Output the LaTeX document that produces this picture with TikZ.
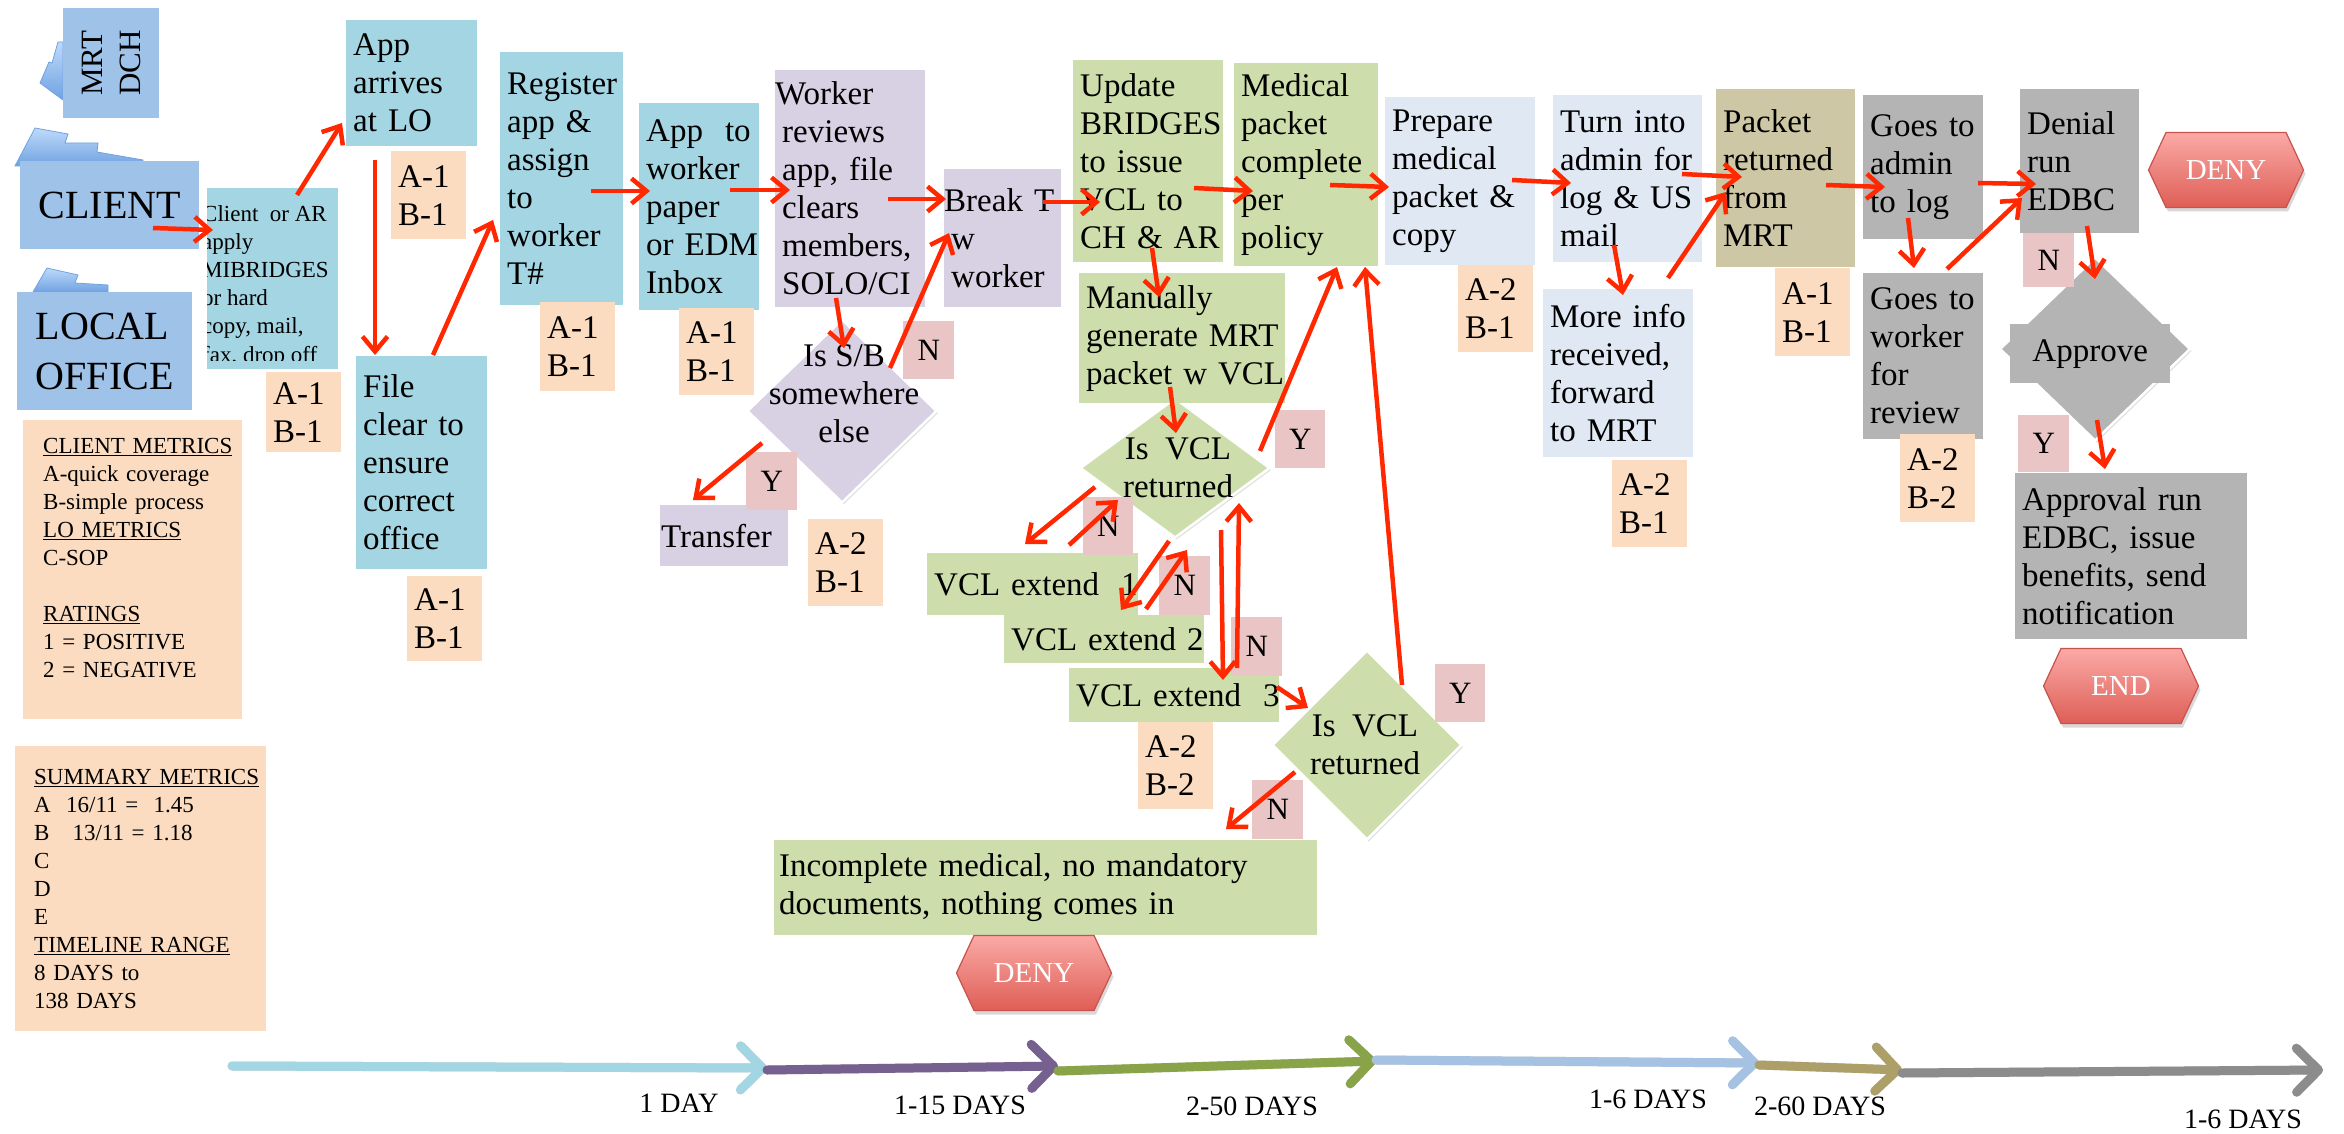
\documentclass[tikz,border=0pt]{standalone}
\usepackage{fontspec}
\setmainfont{Liberation Serif}
\usetikzlibrary{arrows.meta,shapes.geometric,shapes.symbols,shadows}

% no word splitting inside the boxes
\hyphenpenalty=10000
\exhyphenpenalty=10000

% fills
\definecolor{cBlue}{RGB}{158,194,232}
\definecolor{cCyan}{RGB}{164,213,227}
\definecolor{cPeach}{RGB}{251,220,192}
\definecolor{cLav}{RGB}{216,208,227}
\definecolor{cGreen}{RGB}{205,221,171}
\definecolor{cPale}{RGB}{223,232,243}
\definecolor{cKhaki}{RGB}{205,199,165}
\definecolor{cGray}{RGB}{180,180,180}
\definecolor{cPink}{RGB}{233,197,197}
\definecolor{cRed}{RGB}{255,40,0}
\definecolor{hexTop}{RGB}{251,170,166}
\definecolor{hexBot}{RGB}{222,94,86}
\definecolor{hexLine}{RGB}{200,82,76}
\definecolor{tabTop}{RGB}{190,218,250}
\definecolor{tabBot}{RGB}{112,162,226}
% timeline segments
\definecolor{tlA}{RGB}{163,214,227}
\definecolor{tlB}{RGB}{118,96,143}
\definecolor{tlC}{RGB}{137,163,73}
\definecolor{tlD}{RGB}{166,194,226}
\definecolor{tlE}{RGB}{172,160,104}
\definecolor{tlF}{RGB}{140,140,140}

% type sizes
\newcommand\bxf{\fontsize{33pt}{38pt}\selectfont}
\newcommand\smf{\fontsize{23pt}{28.2pt}\selectfont}
\newcommand\mtf{\fontsize{23pt}{28pt}\selectfont}
\newcommand\clf{\fontsize{40pt}{50pt}\selectfont}
\newcommand\ynf{\fontsize{31pt}{36pt}\selectfont}
\newcommand\hxf{\fontsize{29pt}{34pt}\selectfont}
\newcommand\tlf{\fontsize{28pt}{32pt}\selectfont}
\newcommand\mrtf{\fontsize{31pt}{38pt}\selectfont}

\begin{document}
\begin{tikzpicture}[x=1pt,y=-1pt,
  bx/.style n args={3}{anchor=north west, fill=#1, text width=#2, minimum height=#3,
    inner xsep=7pt, inner ysep=0pt, align=left, font=\bxf},
  rt/.style={anchor=north west, fill=cPeach, text width=61pt, minimum height=#1,
    inner xsep=7pt, inner ysep=0pt, align=left, font=\bxf},
  yn/.style n args={2}{anchor=north west, fill=cPink, minimum width=#1, minimum height=#2,
    inner sep=0pt, font=\ynf},
  dm/.style n args={3}{diamond, fill=#1, draw=white, line width=2.5pt, minimum width=#2,
    minimum height=#3, inner sep=0pt,
    drop shadow={opacity=0.25, shadow xshift=1.5pt, shadow yshift=-2pt}},
  dtxt/.style={align=center, font=\bxf, inner sep=0pt},
  hx/.style={signal, signal to=east and west, signal pointer angle=130,
    top color=hexTop, bottom color=hexBot, draw=hexLine, line width=1.2pt,
    minimum width=155pt, minimum height=75pt, inner sep=0pt, text=white, font=\hxf,
    drop shadow={opacity=0.3, shadow xshift=2pt, shadow yshift=-4pt}},
  arr/.style={draw=cRed, line width=4.5pt, -{Straight Barb[length=15pt,width=25pt]}},
  tl/.style={line width=9pt, line cap=round, -{Straight Barb[length=22pt,width=44pt,round]}},
  tab/.style={top color=tabTop, bottom color=tabBot, draw=tabBot, line width=0.8pt}]

\fill[white] (0,0) rectangle (2344,1134);
\useasboundingbox (0,0) rectangle (2344,1134);

% folder tabs behind the actor boxes
\path[tab] (63,42) -- (58,42) -- (52,63) -- (49,62) -- (40,83) -- (63,100) -- cycle;
\path[tab] (15,166) -- (35,128) -- (68,134) -- (65,143) -- (98,143) -- (97,152) -- (143,160) -- (143,166) -- cycle;
\path[tab] (33,292) -- (47,268) -- (78,275) -- (75,283) -- (108,285) -- (108,292) -- cycle;

% decision diamonds (drawn first, boxes overlap their tips)
\node[dm={cLav}{190pt}{184pt}] (sb) at (842,411) {};
\node[dtxt] (sbt) at (844,394) {Is S/B\\somewhere\\else};
\node[dm={cGreen}{190pt}{140pt}] (vcl1) at (1175,468) {};
\node[dtxt] (v1t) at (1178,468) {Is~~VCL\\returned};
\node[dm={cGreen}{190pt}{190pt}] (vcl2) at (1367,745) {};
\node[dtxt] (v2t) at (1365,745) {Is~~VCL\\returned};
\node[dm={cGray}{191pt}{184pt}] (apd) at (2095,349) {};
\node[anchor=north west, fill=cGray, minimum width=160pt, minimum height=59pt, inner sep=0pt, font=\bxf] (aprc) at (2010,324) {Approve};

% actors
\node[fill=cBlue, rotate=90, minimum width=110pt, minimum height=96pt, inner sep=0pt, font=\mrtf, align=left] (mrt) at (111,63) {MRT\\DCH};
\node[anchor=north west, fill=cBlue, minimum width=179pt, minimum height=88pt, inner sep=0pt, font=\clf] (client) at (20,161) {CLIENT};
\node[anchor=north west, fill=cBlue, minimum width=175pt, minimum height=118pt, inner sep=0pt, font=\clf, align=left] (lo) at (17,292) {LOCAL\\OFFICE};

% legend panels
\node[anchor=north west, fill=cPeach, text width=179pt, inner xsep=20pt, inner ysep=0pt, minimum height=299pt, align=left, font=\mtf] (cm) at (23,420)
  {\underline{CLIENT METRICS}\\A-quick coverage\\B-simple process\\\underline{LO METRICS}\\C-SOP\\[28pt]\underline{RATINGS}\\1 = POSITIVE\\2 = NEGATIVE\\[-4pt]\mbox{}};
\node[anchor=north west, fill=cPeach, text width=213pt, inner xsep=19pt, inner ysep=0pt, minimum height=285pt, align=left, font=\mtf] (sm) at (15,746)
  {\underline{SUMMARY METRICS}\\A~~16/11 =~~1.45\\B~~~13/11 = 1.18\\C\\D\\E\\\underline{TIMELINE RANGE}\\8 DAYS to\\138 DAYS};

% application intake
\node[anchor=north west, fill=cCyan, minimum width=131pt, minimum height=181pt, inner sep=0pt] (ca) at (207,188) {};
\begin{scope}
  \clip (207,188) rectangle (338,360);
  \node[anchor=north west, align=left, inner sep=0pt, font=\smf] (catext) at (202,205)
    {Client~~or~AR\\apply\\MIBRIDGES\\or~hard\\copy,~mail,\\fax,~drop~off};
\end{scope}
\node[bx={cCyan}{117pt}{126pt}] (app) at (346,20) {App\\arrives\\at~LO};
\node[bx={cCyan}{117pt}{213pt}] (file) at (356,356) {File\\clear~to\\ensure\\correct\\office};
\node[bx={cCyan}{109pt}{253pt}] (reg) at (500,52) {Register\\app~\&\\assign\\to\\worker\\T\#};
\node[bx={cCyan}{106pt}{207pt}] (atw) at (639,103) {App~~to\\worker\\paper\\or~EDM\\Inbox};

% worker review
\node[bx={cLav}{136pt}{237pt}] (wr) at (775,70) {\hspace*{-7pt}Worker\\reviews\\app,~file\\clears\\members,\\SOLO/CI};
\node[bx={cLav}{103pt}{138pt}] (brk) at (944,169) {\hspace*{-7pt}Break~T\\w\\worker};
\node[bx={cLav}{126pt}{61pt}, inner xsep=1pt] (trans) at (660,505) {Transfer};

% verification
\node[bx={cGreen}{136pt}{202pt}] (upd) at (1073,60) {Update\\BRIDGES\\to~issue\\VCL~to\\CH~\&~AR};
\node[bx={cGreen}{130pt}{203pt}] (med) at (1234,63) {Medical\\packet\\complete\\per\\policy};
\node[bx={cGreen}{192pt}{130pt}] (man) at (1079,273) {Manually\\generate~MRT\\packet~w~VCL};
\node[bx={cGreen}{197pt}{62pt}] (ext1) at (927,553) {\mbox{VCL extend~~1}};
\node[bx={cGreen}{186pt}{48pt}] (ext2) at (1004,615) {\mbox{VCL extend 2}};
\node[bx={cGreen}{196pt}{54pt}] (ext3) at (1069,668) {\mbox{VCL extend~~3}};
\node[bx={cGreen}{533pt}{95pt}, inner xsep=5pt] (inc) at (774,840) {Incomplete medical, no mandatory\\documents, nothing comes in};

% MRT packet
\node[bx={cPale}{136pt}{168pt}] (prep) at (1385,97) {Prepare\\medical\\packet~\&\\copy};
\node[bx={cPale}{135pt}{167pt}] (turn) at (1553,95) {Turn~into\\admin~for\\log~\&~US\\mail};
\node[bx={cPale}{136pt}{168pt}] (more) at (1543,289) {More~info\\received,\\forward\\to~MRT};
\node[bx={cKhaki}{125pt}{178pt}] (pkt) at (1716,89) {Packet\\returned\\from\\MRT};

% eligibility decision
\node[bx={cGray}{106pt}{144pt}] (gadm) at (1863,95) {Goes~to\\admin\\to~log};
\node[bx={cGray}{106pt}{166pt}] (gwk) at (1863,273) {Goes~to\\worker\\for\\review};
\node[bx={cGray}{105pt}{144pt}] (den) at (2020,89) {Denial\\run\\EDBC};
\node[bx={cGray}{218pt}{166pt}] (apr) at (2015,473) {Approval~run\\EDBC,~issue\\benefits,~send\\notification};

% ratings
\node[rt=80pt] (r1) at (266,372) {A-1\\B-1};
\node[rt=88pt] (r2) at (391,151) {A-1\\B-1};
\node[rt=85pt] (r3) at (407,576) {A-1\\B-1};
\node[rt=89pt] (r4) at (540,302) {A-1\\B-1};
\node[rt=87pt] (r5) at (679,308) {A-1\\B-1};
\node[rt=87pt] (r6) at (808,519) {A-2\\B-1};
\node[rt=87pt] (r7) at (1138,722) {A-2\\B-2};
\node[rt=87pt] (r8) at (1458,265) {A-2\\B-1};
\node[rt=87pt] (r9) at (1612,460) {A-2\\B-1};
\node[rt=88pt] (r10) at (1775,268) {A-1\\B-1};
\node[rt=88pt] (r11) at (1900,434) {A-2\\B-2};

% yes / no tags
\node[yn={51pt}{58pt}] (nsb) at (903,321) {N};
\node[yn={51pt}{58pt}] (ysb) at (746,452) {Y};
\node[yn={50pt}{58pt}] (yv1) at (1275,410) {Y};
\node[yn={50pt}{58pt}] (nv1) at (1083,497) {N};
\node[yn={51pt}{59pt}] (nv2) at (1159,556) {N};
\node[yn={51pt}{59pt}] (nv3) at (1231,617) {N};
\node[yn={50pt}{58pt}] (yv2) at (1435,664) {Y};
\node[yn={51pt}{59pt}] (nv4) at (1252,780) {N};
\node[yn={51pt}{54pt}] (nap) at (2023,233) {N};
\node[yn={51pt}{57pt}] (yap) at (2018,415) {Y};

% terminators
\node[hx] (deny1) at (1034,973) {DENY};
\node[hx] (deny2) at (2226,170) {DENY};
\node[hx] (endh) at (2121,686) {END};

% flow
\draw[arr] ([shift={(133,67)}]client.north west) -- ([shift={(6,42)}]ca.north west);
\draw[arr] ([shift={(90,7)}]ca.north west) -- ([shift={(-4,103)}]app.north west);
\draw[arr] ([shift={(29,140)}]app.north west) -- ([shift={(19,-1)}]file.north west);
\draw[arr] ([shift={(77,-1)}]file.north west) -- ([shift={(-7,168)}]reg.north west);
\draw[arr] ([shift={(91,139)}]reg.north west) -- ([shift={(11,88)}]atw.north west);
\draw[arr] ([shift={(91,87)}]atw.north west) -- ([shift={(15,120)}]wr.north west);
\draw[arr] ([shift={(113,129)}]wr.north west) -- ([shift={(2,30)}]brk.north west);
\draw[arr] ([shift={(61,228)}]wr.north west) -- ([shift={(2,-63)}]sb.center);
\draw[arr] ([shift={(48,-43)}]sb.center) -- ([shift={(5,64)}]brk.north west);
\draw[arr] ([shift={(-80,32)}]sb.center) -- ([shift={(33,-5)}]trans.north west);
\draw[arr] ([shift={(99,33)}]brk.north west) -- ([shift={(27,142)}]upd.north west);
\draw[arr] ([shift={(121,128)}]upd.north west) -- ([shift={(19,128)}]med.north west);
\draw[arr] ([shift={(96,122)}]med.north west) -- ([shift={(4,90)}]prep.north west);
\draw[arr] ([shift={(127,83)}]prep.north west) -- ([shift={(18,88)}]turn.north west);
\draw[arr] ([shift={(79,188)}]upd.north west) -- ([shift={(80,24)}]man.north west);
\draw[arr] ([shift={(91,114)}]man.north west) -- ([shift={(1,-35)}]vcl1.center);
\draw[arr] ([shift={(85,-17)}]vcl1.center) -- ([shift={(103,204)}]med.north west);
\draw[arr] ([shift={(-80,19)}]vcl1.center) -- ([shift={(98,-9)}]ext1.north west);
\draw[arr] ([shift={(142,-8)}]ext1.north west) -- ([shift={(-57,32)}]vcl1.center);
\draw[arr] ([shift={(-6,73)}]vcl1.center) -- ([shift={(117,-5)}]ext2.north west);
\draw[arr] ([shift={(142,-6)}]ext2.north west) -- ([shift={(12,82)}]vcl1.center);
\draw[arr] ([shift={(46,62)}]vcl1.center) -- ([shift={(154,12)}]ext3.north west);
\draw[arr] ([shift={(168,0)}]ext3.north west) -- ([shift={(64,35)}]vcl1.center);
\draw[arr] ([shift={(208,19)}]ext3.north west) -- ([shift={(-59,-37)}]vcl2.center);
\draw[arr] ([shift={(-72,27)}]vcl2.center) -- ([shift={(452,-11)}]inc.north west);
\draw[arr] ([shift={(35,-60)}]vcl2.center) -- ([shift={(131,204)}]med.north west);
\draw[arr] ([shift={(61,150)}]turn.north west) -- ([shift={(80,6)}]more.north west);
\draw[arr] ([shift={(129,79)}]turn.north west) -- ([shift={(26,88)}]pkt.north west);
\draw[arr] ([shift={(125,-11)}]more.north west) -- ([shift={(10,103)}]pkt.north west);
\draw[arr] ([shift={(110,96)}]pkt.north west) -- ([shift={(22,92)}]gadm.north west);
\draw[arr] ([shift={(45,123)}]gadm.north west) -- ([shift={(51,-5)}]gwk.north west);
\draw[arr] ([shift={(84,-4)}]gwk.north west) -- ([shift={(2,109)}]den.north west);
\draw[arr] ([shift={(115,88)}]gadm.north west) -- ([shift={(16,95)}]den.north west);
\draw[arr] ([shift={(67,137)}]den.north west) -- ([shift={(0,-70)}]apd.center);
\draw[arr] ([shift={(2,71)}]apd.center) -- ([shift={(90,-4)}]apr.north west);

% timeline
\coordinate (t0) at (232,1066);
\coordinate (t1) at (767,1068);
\coordinate (t1b) at (767,1070);
\coordinate (t2) at (1058,1066);
\coordinate (t2b) at (1058,1071);
\coordinate (t3) at (1376,1061);
\coordinate (t3b) at (1376,1060);
\coordinate (t4) at (1759,1063);
\coordinate (t4b) at (1759,1065);
\coordinate (t5) at (1902,1070);
\coordinate (t5b) at (1902,1073);
\coordinate (t6) at (2323,1070);
\begin{scope}[shift={(1,4)}, opacity=0.18]
  \draw[tl, black] (t0) -- (t1);
  \draw[tl, black] (t1b) -- (t2);
  \draw[tl, black] (t2b) -- (t3);
  \draw[tl, black] (t3b) -- (t4);
  \draw[tl, black] (t4b) -- (t5);
  \draw[tl, black] (t5b) -- (t6);
\end{scope}
\draw[tl, tlA] (t0) -- (t1);
\draw[tl, tlB] (t1b) -- (t2);
\draw[tl, tlC] (t2b) -- (t3);
\draw[tl, tlD] (t3b) -- (t4);
\draw[tl, tlE] (t4b) -- (t5);
\draw[tl, tlF] (t5b) -- (t6);
\node[font=\tlf] (d1) at (679,1103) {1 DAY};
\node[font=\tlf] (d2) at (960,1105) {1-15 DAYS};
\node[font=\tlf] (d3) at (1252,1106) {2-50 DAYS};
\node[font=\tlf] (d4) at (1648,1099) {1-6 DAYS};
\node[font=\tlf] (d5) at (1820,1106) {2-60 DAYS};
\node[font=\tlf] (d6) at (2243,1119) {1-6 DAYS};
\end{tikzpicture}
\end{document}
